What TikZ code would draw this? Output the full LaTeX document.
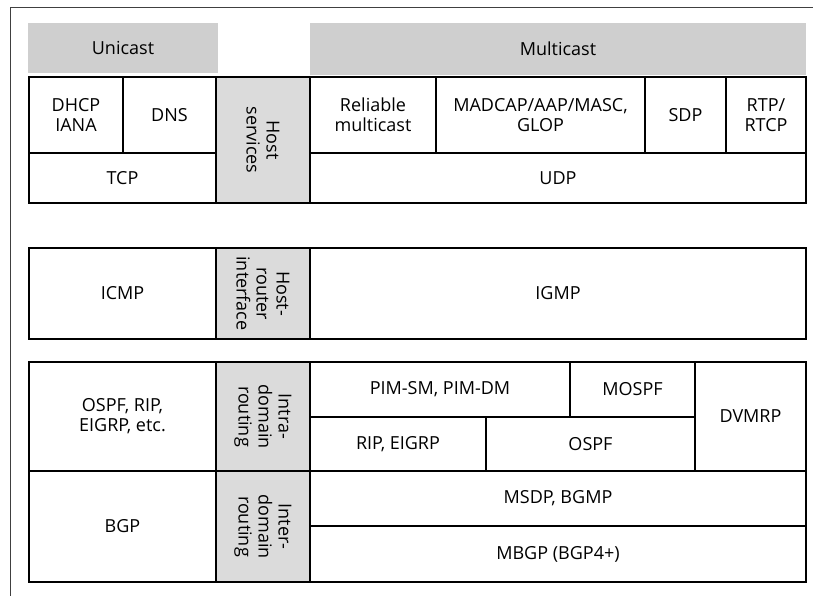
\documentclass[tikz,border=0pt]{standalone}
\usepackage{fontspec}
\setmainfont{Open Sans}
\begin{document}
\begin{tikzpicture}[x=1pt,y=-1pt,
  cellbox/.style={draw=black, line width=1.2pt, rectangle, inner sep=0pt, align=center, font=\fontsize{18}{20}\selectfont},
  shadecol/.style={cellbox, fill=gray!28},
  band/.style={rectangle, fill=gray!38, inner sep=0pt, font=\fontsize{18}{20}\selectfont},
  frameline/.style={line width=0.7pt, black!75}]
\newcommand\mkcell[7][cellbox]{%
  \node[#1, minimum width={(#5-#3)*1pt}, minimum height={(#6-#4)*1pt}]
    (#2) at ({(#3+#5)/2},{(#4+#6)/2}) {#7};}
\newcommand\mkvcell[6]{%
  \node[shadecol, rotate=-90, minimum height={(#4-#2)*1pt}, minimum width={(#5-#3)*1pt}]
    (#1) at ({(#2+#4)/2},{(#3+#5)/2}) {#6};}
\useasboundingbox (0,0) rectangle (813,596);
% outer frame
\coordinate (fa) at (813,7);
\coordinate (fb) at (10,7);
\coordinate (fc) at (10,596);
\draw[frameline] (fa) -- (fb) -- (fc);
% header bands
\node[band, minimum width=190pt, minimum height=50pt] (uni) at (123,48) {Unicast};
\node[band, minimum width=496pt, minimum height=52pt] (multi) at (558,49) {Multicast};
% row 1
\mkcell{dhcp}{29}{77}{123}{153}{DHCP\\IANA}
\mkcell{dns}{123}{77}{216}{153}{DNS}
\mkcell{tcp}{29}{153}{216}{203}{TCP}
\mkvcell{hs}{216}{77}{310}{203}{Host\\services}
\mkcell{rel}{310}{77}{436}{153}{Reliable\\multicast}
\mkcell{madcap}{436}{77}{645}{153}{MADCAP/AAP/MASC,\\GLOP}
\mkcell{sdp}{645}{77}{726}{153}{SDP}
\mkcell{rtp}{726}{77}{806}{153}{RTP/\\RTCP}
\mkcell{udp}{310}{153}{806}{203}{UDP}
% row 2
\mkcell{icmp}{29}{248}{216}{339}{ICMP}
\mkvcell{hri}{216}{248}{310}{339}{Host-\\router\\interface}
\mkcell{igmp}{310}{248}{806}{339}{IGMP}
% row 3
\mkcell{ospfl}{29}{362}{216}{471}{OSPF, RIP,\\EIGRP, etc.}
\mkvcell{intra}{216}{362}{310}{471}{Intra-\\domain\\routing}
\mkcell{pim}{310}{362}{570}{417}{PIM-SM, PIM-DM}
\mkcell{mospf}{570}{362}{695}{417}{MOSPF}
\mkcell{dvmrp}{695}{362}{806}{471}{DVMRP}
\mkcell{ripe}{310}{417}{486}{471}{RIP, EIGRP}
\mkcell{ospf}{486}{417}{695}{471}{OSPF}
% row 4
\mkcell{bgp}{29}{471}{216}{582}{BGP}
\mkvcell{inter}{216}{471}{310}{582}{Inter-\\domain\\routing}
\mkcell{msdp}{310}{471}{806}{526}{MSDP, BGMP}
\mkcell{mbgp}{310}{526}{806}{582}{MBGP (BGP4+)}
\end{tikzpicture}
\end{document}
